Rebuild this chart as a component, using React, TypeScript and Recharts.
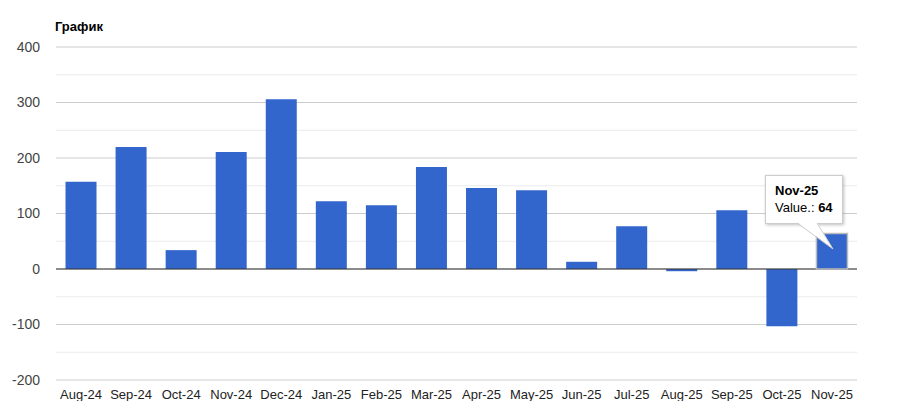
import { BarChart, Bar, XAxis, YAxis, Tooltip, ReferenceLine, CartesianGrid } from "recharts";

const months = [
  "Aug-24", "Sep-24", "Oct-24", "Nov-24", "Dec-24", "Jan-25", "Feb-25", "Mar-25",
  "Apr-25", "May-25", "Jun-25", "Jul-25", "Aug-25", "Sep-25", "Oct-25", "Nov-25",
];
const values = [157, 220, 34, 211, 306, 122, 115, 184, 146, 142, 13, 77, -4, 106, -103, 64];
const majorTicks = [-200, -100, 0, 100, 200, 300, 400];
const minorTicks = [-150, -50, 50, 150, 250, 350];

const data = months.map((month, i) => ({ month, value: values[i] }));

const font = "Arial, 'Liberation Sans', sans-serif";

function TipBox({ active, payload }: any) {
  if (!active || !payload || !payload.length) return null;
  const p = payload[0].payload;
  return (
    <div style={{ position: "relative", fontFamily: font }}>
      <div
        style={{
          background: "#fff",
          border: "1px solid #ccc",
          boxShadow: "1px 1px 3px rgba(0,0,0,0.25)",
          padding: "6px 9px 7px 9px",
          fontSize: 13,
          color: "#000",
          lineHeight: "17px",
          whiteSpace: "nowrap",
        }}
      >
        <div style={{ fontWeight: "bold" }}>{p.month}</div>
        <div>
          Value.: <b>{p.value}</b>
        </div>
      </div>
      <svg
        width={40}
        height={30}
        style={{ position: "absolute", left: 30, top: 48, overflow: "visible" }}
      >
        <path d="M2 -1 L38 26 L22 -1 Z" fill="#fff" stroke="none" />
        <path d="M2 0 L38 26 L22 0" fill="none" stroke="#ccc" />
      </svg>
    </div>
  );
}

export default function App() {
  return (
    <div style={{ margin: -8, width: 900, height: 409, position: "relative", background: "#fff" }}>
      <div
        style={{
          position: "absolute",
          left: 55,
          top: 19,
          fontFamily: font,
          fontWeight: "bold",
          fontSize: 13,
          color: "#000",
        }}
      >
        График
      </div>
      <BarChart
        width={900}
        height={409}
        data={data}
        margin={{ top: 47, right: 43, bottom: 0, left: 0 }}
        barCategoryGap="19%"
      >
        <CartesianGrid vertical={false} horizontalValues={minorTicks} stroke="#ebebeb" />
        <CartesianGrid vertical={false} horizontalValues={majorTicks} stroke="#ccc" />
        <XAxis
          dataKey="month"
          axisLine={false}
          tickLine={false}
          height={29}
          interval={0}
          tick={{ fill: "#222", fontSize: 13, fontFamily: font }}
          tickMargin={4}
        />
        <YAxis
          width={56}
          domain={[-200, 400]}
          ticks={majorTicks}
          axisLine={false}
          tickLine={false}
          tick={{ fill: "#444", fontSize: 14, fontFamily: font }}
          tickMargin={10}
        />
        <Tooltip
          active
          defaultIndex={15}
          cursor={false}
          isAnimationActive={false}
          position={{ x: 765, y: 175 }}
          content={<TipBox />}
          wrapperStyle={{ transition: "none", outline: "none" }}
        />
        <Bar
          dataKey="value"
          fill="#3366cc"
          isAnimationActive={false}
          activeBar={{ fill: "#3366cc", stroke: "#bbb", strokeWidth: 1.5 }}
        />
        <ReferenceLine y={0} stroke="#333" strokeWidth={1} />
      </BarChart>
    </div>
  );
}
